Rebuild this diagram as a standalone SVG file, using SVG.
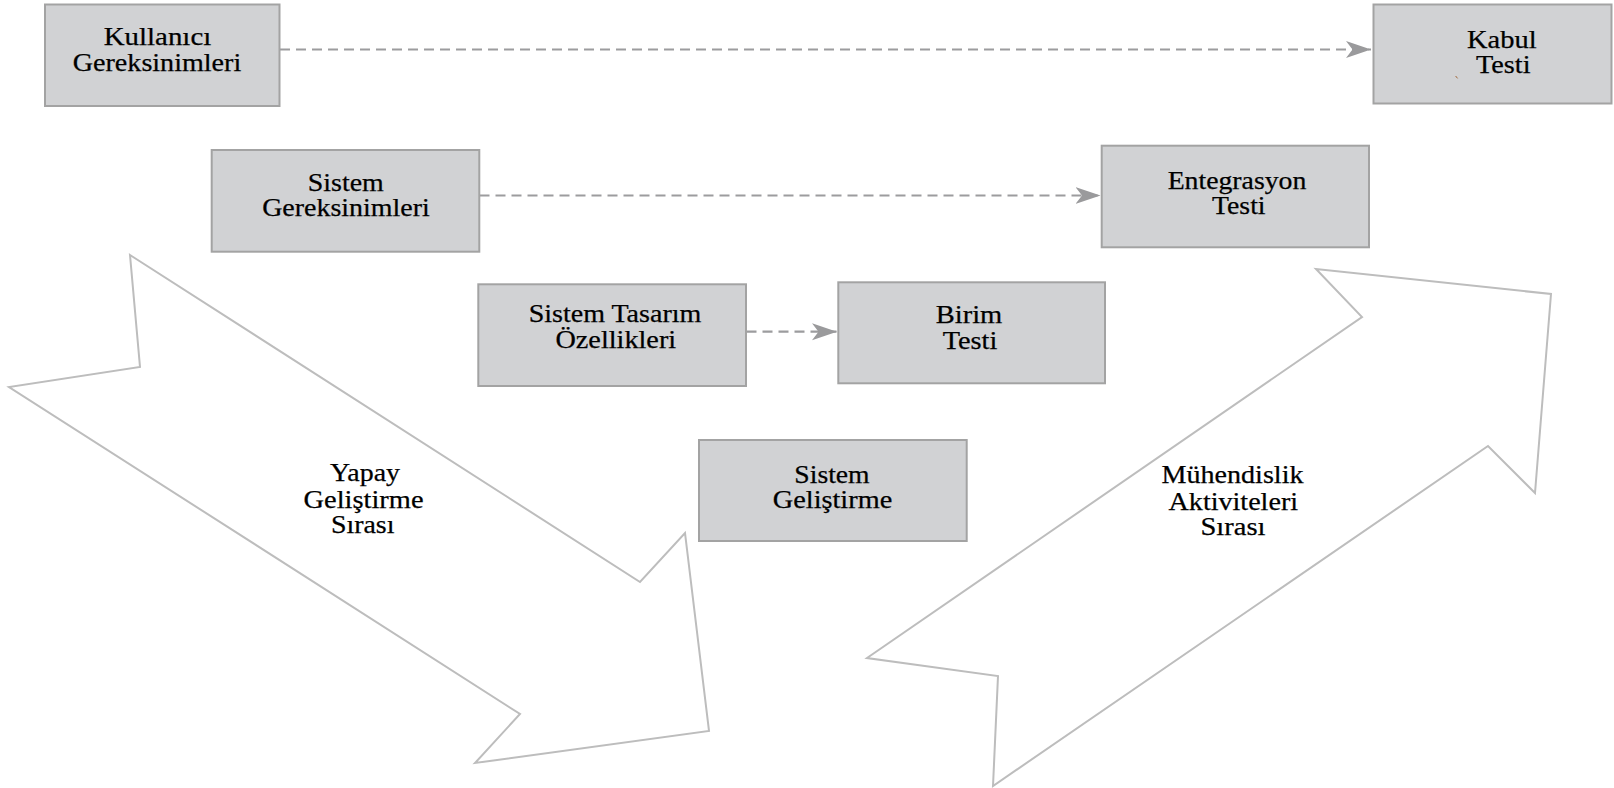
<svg xmlns="http://www.w3.org/2000/svg" width="1614" height="788" viewBox="0 0 1614 788">
<style>
.box{fill:#d1d2d4;stroke:#a3a3a3;stroke-width:2}
.big{fill:#ffffff;stroke:#bdbdbd;stroke-width:2;stroke-linejoin:miter}
.t{font-family:"Liberation Serif","Times New Roman",serif;font-size:25px;fill:#000000;stroke:#000000;stroke-width:0.25;text-anchor:middle}
.dash{fill:none;stroke:#9c9c9e;stroke-width:2.2;stroke-dasharray:10 6}
</style>
<defs>
<marker id="ah" markerUnits="userSpaceOnUse" markerWidth="26" markerHeight="20" viewBox="0 0 26 20" refX="25" refY="10" orient="auto">
<path d="M0,1.5 L25,10 L0,18.5 L6.5,10 Z" fill="#9a9a9c"/>
</marker>
</defs>
<rect width="1614" height="788" fill="#ffffff"/>

<g id="yapay-arrow">
<polygon class="big" points="130,255 640,582 685,533 709,731 475,763 520,714 9,387 140,367"/>
<text class="t" x="365" y="481" textLength="70" lengthAdjust="spacingAndGlyphs">Yapay</text>
<text class="t" x="363.5" y="507.5" textLength="120" lengthAdjust="spacingAndGlyphs">Geliştirme</text>
<text class="t" x="362.7" y="533" textLength="63.5" lengthAdjust="spacingAndGlyphs">Sırası</text>
</g>

<g id="muhendislik-arrow">
<polygon class="big" points="867,658 1362,317 1316,269 1551,294 1535,493 1488,446 993,786 998,676"/>
<text class="t" x="1232.5" y="483" textLength="142" lengthAdjust="spacingAndGlyphs">Mühendislik</text>
<text class="t" x="1233.3" y="510" textLength="129.5" lengthAdjust="spacingAndGlyphs">Aktiviteleri</text>
<text class="t" x="1233" y="534.7" textLength="65" lengthAdjust="spacingAndGlyphs">Sırası</text>
</g>

<g id="connectors">
<line class="dash" x1="280" y1="49.5" x2="1371" y2="49.5" marker-end="url(#ah)"/>
<line class="dash" x1="479.5" y1="195.5" x2="1100.5" y2="195.5" marker-end="url(#ah)"/>
<line class="dash" x1="746.5" y1="331.7" x2="837" y2="331.7" marker-end="url(#ah)"/>
</g>

<g id="kullanici-gereksinimleri">
<rect class="box" x="45" y="4.5" width="234.5" height="101.5"/>
<text class="t" x="157.5" y="45" textLength="107.5" lengthAdjust="spacingAndGlyphs">Kullanıcı</text>
<text class="t" x="157" y="71" textLength="168.5" lengthAdjust="spacingAndGlyphs">Gereksinimleri</text>
</g>

<g id="kabul-testi">
<rect class="box" x="1373.5" y="4.5" width="238" height="99"/>
<text class="t" x="1501.8" y="47.7" textLength="69.5" lengthAdjust="spacingAndGlyphs">Kabul</text>
<text class="t" x="1503.3" y="73.3" textLength="54.5" lengthAdjust="spacingAndGlyphs">Testi</text>
<path d="M1455.6,76 L1457.6,78.4" stroke="#a0683a" stroke-width="1" fill="none"/>
</g>

<g id="sistem-gereksinimleri">
<rect class="box" x="211.7" y="150" width="267.6" height="101.7"/>
<text class="t" x="345.8" y="190.7" textLength="76" lengthAdjust="spacingAndGlyphs">Sistem</text>
<text class="t" x="346" y="216" textLength="167.6" lengthAdjust="spacingAndGlyphs">Gereksinimleri</text>
</g>

<g id="entegrasyon-testi">
<rect class="box" x="1101.7" y="145.7" width="267.3" height="101.6"/>
<text class="t" x="1237" y="189.3" textLength="138.7" lengthAdjust="spacingAndGlyphs">Entegrasyon</text>
<text class="t" x="1238.8" y="214.3" textLength="53.5" lengthAdjust="spacingAndGlyphs">Testi</text>
</g>

<g id="sistem-tasarim-ozellikleri">
<rect class="box" x="478.3" y="284.3" width="267.7" height="101.7"/>
<text class="t" x="615" y="321.7" textLength="172.7" lengthAdjust="spacingAndGlyphs">Sistem Tasarım</text>
<text class="t" x="615.8" y="347.7" textLength="120.7" lengthAdjust="spacingAndGlyphs">Özellikleri</text>
</g>

<g id="birim-testi">
<rect class="box" x="838.3" y="282.3" width="266.7" height="101"/>
<text class="t" x="969" y="322.7" textLength="66.6" lengthAdjust="spacingAndGlyphs">Birim</text>
<text class="t" x="970" y="348.8" textLength="54.6" lengthAdjust="spacingAndGlyphs">Testi</text>
</g>

<g id="sistem-gelistirme">
<rect class="box" x="699" y="440" width="267.7" height="101"/>
<text class="t" x="832" y="482.7" textLength="75.3" lengthAdjust="spacingAndGlyphs">Sistem</text>
<text class="t" x="832.5" y="508.3" textLength="119.4" lengthAdjust="spacingAndGlyphs">Geliştirme</text>
</g>
</svg>
